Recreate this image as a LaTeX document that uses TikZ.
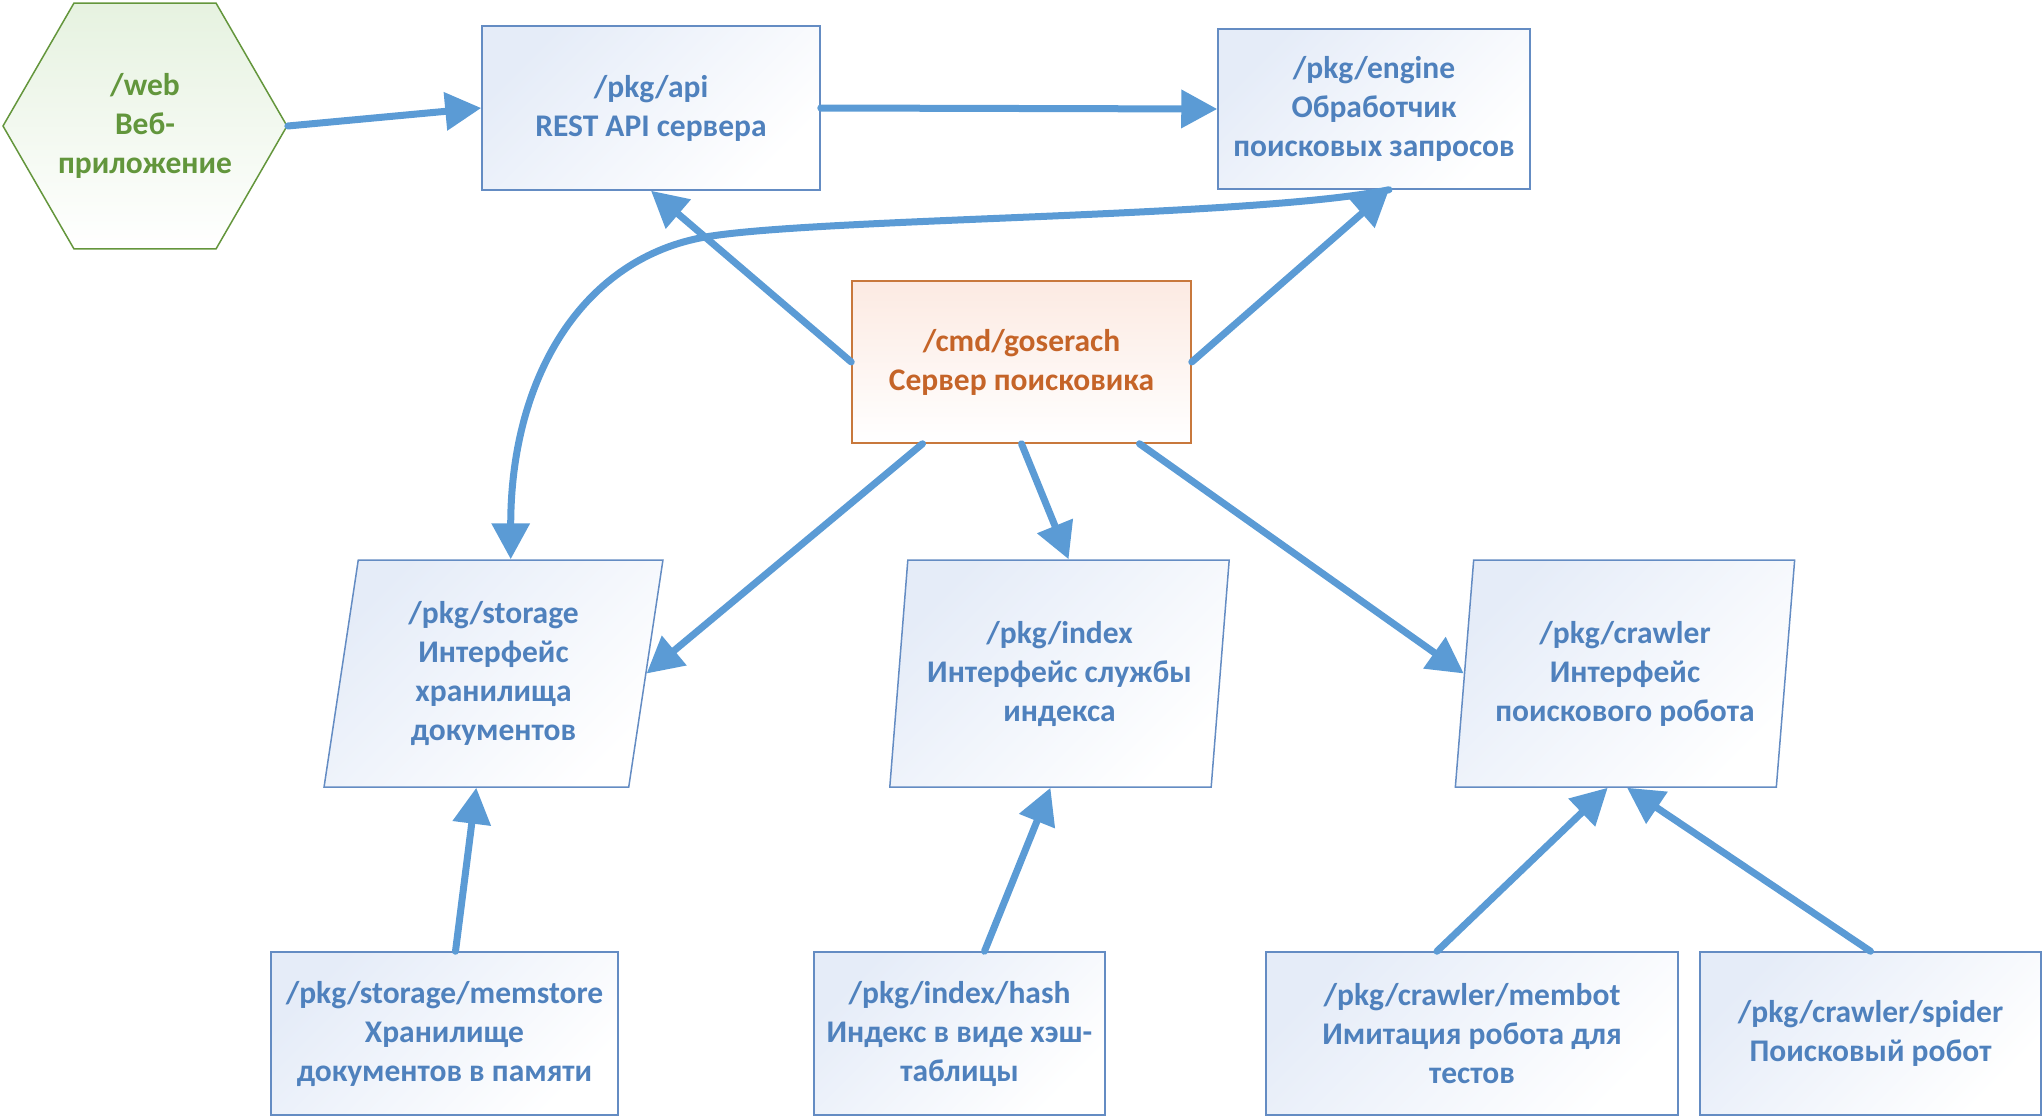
\documentclass[tikz,border=0pt]{standalone}
\usepackage{fontspec}
\setmainfont{Carlito}
\usetikzlibrary{shapes.geometric,arrows.meta,calc}

\definecolor{boxline}{RGB}{100,140,195}
\definecolor{txtblue}{RGB}{79,129,189}
\definecolor{boxtint}{RGB}{229,236,248}
\definecolor{arrowblue}{RGB}{91,155,213}
\definecolor{orline}{RGB}{200,120,60}
\definecolor{ortext}{RGB}{197,100,40}
\definecolor{ortint}{RGB}{252,234,226}
\definecolor{grline}{RGB}{100,150,60}
\definecolor{grtext}{RGB}{98,150,60}
\definecolor{grtint}{RGB}{230,242,224}

\tikzset{
  pkgbox/.style={draw=boxline, line width=1.5pt, top color=boxtint, bottom color=white,
    shading angle=45, text=txtblue, font=\bfseries\fontsize{31.5}{39}\selectfont,
    align=center, inner sep=0pt, rectangle},
  ifacebox/.style={pkgbox, trapezium, trapezium left angle=81.5,
    trapezium right angle=98.5, trapezium stretches=true},
  mainbox/.style={pkgbox, draw=orline, top color=ortint, text=ortext},
  webhex/.style={pkgbox, draw=grline, top color=grtint, text=grtext,
    regular polygon, regular polygon sides=6},
  link/.style={draw=arrowblue, line width=7pt, line cap=round,
    -{Triangle[length=36pt,width=37pt]}}
}

\begin{document}
\begin{tikzpicture}[x=1pt,y=-1pt]
\useasboundingbox (0,0) rectangle (2043,1116);

% top row
\node[webhex, minimum size=284pt] (web) at (145,126) {/web\\Веб-\\приложение};
\node[pkgbox, minimum width=338pt, minimum height=164pt] (api) at (651,108)
  {/pkg/api\\REST API сервера};
\node[pkgbox, minimum width=312pt, minimum height=160pt] (engine) at (1374,109)
  {/pkg/engine\\Обработчик\\поисковых запросов};

% server
\node[mainbox, minimum width=339pt, minimum height=162pt] (goser) at (1021.5,362)
  {/cmd/goserach\\Сервер поисковика};

% interfaces
\node[ifacebox, minimum width=340pt, minimum height=227pt] (storage) at (493.5,673.5)
  {/pkg/storage\\Интерфейс\\хранилища\\документов};
\node[ifacebox, minimum width=340pt, minimum height=227pt] (index) at (1059.5,673.5)
  {/pkg/index\\Интерфейс службы\\индекса};
\node[ifacebox, minimum width=340pt, minimum height=227pt] (crawler) at (1625,673.5)
  {/pkg/crawler\\Интерфейс\\поискового робота};

% implementations
\node[pkgbox, minimum width=347pt, minimum height=163pt] (memstore) at (444.5,1033.5)
  {/pkg/storage/memstore\\Хранилище\\документов в памяти};
\node[pkgbox, minimum width=291pt, minimum height=163pt] (hash) at (959.5,1033.5)
  {/pkg/index/hash\\Индекс в виде хэш-\\таблицы};
\node[pkgbox, minimum width=412pt, minimum height=163pt] (membot) at (1472,1033.5)
  {/pkg/crawler/membot\\Имитация робота для\\тестов};
\node[pkgbox, minimum width=341pt, minimum height=163pt] (spider) at (1870.5,1033.5)
  {/pkg/crawler/spider\\Поисковый робот};

% attachment points on the slanted sides of the interface shapes
\coordinate (stTop) at ($(storage.top left corner)!0.5!(storage.top right corner)$);
\coordinate (stBot) at ($(storage.bottom left corner)!0.5!(storage.bottom right corner)$);
\coordinate (stRight) at ($(storage.top right corner)!0.5!(storage.bottom right corner)$);
\coordinate (ixTop) at ($(index.top left corner)!0.5!(index.top right corner)$);
\coordinate (ixBot) at ($(index.bottom left corner)!0.5!(index.bottom right corner)$);
\coordinate (crLeft) at ($(crawler.top left corner)!0.5!(crawler.bottom left corner)$);
\coordinate (crBotA) at ($(crawler.bottom left corner)!0.475!(crawler.bottom right corner)$);
\coordinate (crBotB) at ($(crawler.bottom left corner)!0.535!(crawler.bottom right corner)$);
\coordinate (engfoot) at ([xshift=15pt]engine.south);

% connectors
\draw[link] (web.east) -- (api.west);
\draw[link] (api.east) -- (engine.west);
\draw[link] (goser.west) -- (api.south);
\draw[link] (goser.east) -- (engfoot);
\draw[link] (engfoot) .. controls (1250,218) and (800,218) .. (700,238)
  .. controls (580,262) and (stTop|-0,380) .. (stTop);
\draw[link] ([xshift=-99pt]goser.south) -- (stRight);
\draw[link] (goser.south) -- (ixTop);
\draw[link] ([xshift=118pt]goser.south) -- (crLeft);
\draw[link] ([xshift=11pt]memstore.north) -- (stBot);
\draw[link] ([xshift=25pt]hash.north) -- (ixBot);
\draw[link] ([xshift=-35pt]membot.north) -- (crBotA);
\draw[link] (spider.north) -- (crBotB);
\end{tikzpicture}
\end{document}
